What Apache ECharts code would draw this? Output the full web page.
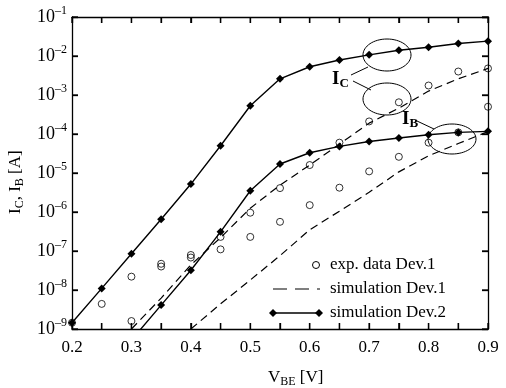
<!DOCTYPE html>
<html>
<head>
<meta charset="utf-8">
<script src="https://cdn.jsdelivr.net/npm/echarts@6/dist/echarts.min.js"></script>
<style>
  html, body { margin: 0; padding: 0; background: #fff; }
  #chart { width: 506px; height: 388px; }
</style>
</head>
<body>
<div id="chart"></div>
<script>
// Base-emitter voltage sweep [V]
const vbe = [0.2, 0.25, 0.3, 0.35, 0.4, 0.45, 0.5, 0.55, 0.6, 0.65, 0.7, 0.75, 0.8, 0.85, 0.9];

// Measured currents, device 1 [A]
const expIC = [1.45e-9, 4.4e-9, 2.2e-8, 4.7e-8, 7.9e-8, 2.3e-7, 9.6e-7, 4.1e-6, 1.6e-5, 6.0e-5, 2.1e-4, 6.5e-4, 1.75e-3, 4.0e-3, 4.8e-3];
const expIB = [null, null, 1.6e-9, 4.0e-8, 6.8e-8, 1.1e-7, 2.3e-7, 5.6e-7, 1.5e-6, 4.2e-6, 1.1e-5, 2.6e-5, 6.0e-5, 1.1e-4, 5.0e-4];

// Simulated currents, device 1 [A]
const sim1IC = [null, null, 1.0e-9, 6.2e-9, 4.4e-8, 2.2e-7, 1.25e-6, 4.9e-6, 1.6e-5, 5.5e-5, 1.9e-4, 4.6e-4, 1.26e-3, 2.6e-3, 4.8e-3];
const sim1IB = [null, null, null, null, 1.0e-9, 4.4e-9, 1.8e-8, 7.6e-8, 3.5e-7, 1.05e-6, 3.2e-6, 1.07e-5, 2.75e-5, 5.7e-5, 1.15e-4];

// Simulated currents, device 2 [A]
const sim2IC = [1.45e-9, 1.1e-8, 8.5e-8, 6.5e-7, 5.2e-6, 5.0e-5, 5.3e-4, 2.6e-3, 5.3e-3, 7.9e-3, 1.07e-2, 1.4e-2, 1.67e-2, 2.1e-2, 2.4e-2];
const sim2IB = [null, null, 5.2e-10, 4.1e-9, 3.2e-8, 3.1e-7, 3.5e-6, 1.7e-5, 3.3e-5, 4.8e-5, 6.4e-5, 7.9e-5, 9.6e-5, 1.1e-4, 1.17e-4];

// Axis ticks and labels
const xTickLabels = ['0.2', '0.3', '0.4', '0.5', '0.6', '0.7', '0.8', '0.9'];
const yDecades = [1e-9, 1e-8, 1e-7, 1e-6, 1e-5, 1e-4, 1e-3, 1e-2, 1e-1];
const legendNames = ['exp. data Dev.1', 'simulation Dev.1', 'simulation Dev.2'];

const FONT = '"Liberation Serif", "DejaVu Serif", serif';
const pair = ys => vbe.map((x, i) => [x, ys[i]]).filter(p => p[1] != null);

const mkLine = () => ({ show: true, onZero: false, lineStyle: { color: '#000', width: 1.3 } });
const mkTick = () => ({ show: true, inside: true, length: 6, lineStyle: { color: '#000', width: 1.3 } });

function xLabel(v) {
  const s = v.toFixed(1);
  return (Math.abs(v * 10 - Math.round(v * 10)) < 1e-6 && xTickLabels.indexOf(s) >= 0) ? s : '';
}
function yLabel(v) {
  const e = Math.round(Math.log10(v));
  return '{b|10}{s|' + (e < 0 ? '\u2013' : '') + Math.abs(e) + '}';
}

const solid = (name, ys) => ({
  name, type: 'line', data: pair(ys), clip: true,
  symbol: 'diamond', symbolSize: 8, showSymbol: true,
  lineStyle: { color: '#000', width: 1.4 },
  itemStyle: { color: '#000' }, z: 3
});
const dashed = (name, ys) => ({
  name, type: 'line', data: pair(ys), clip: true, symbol: 'none',
  lineStyle: { color: '#000', width: 1.2, type: [8, 5] }, z: 2
});
const circles = (name, ys) => ({
  name, type: 'scatter', data: pair(ys), clip: true,
  symbol: 'circle', symbolSize: 7,
  itemStyle: { color: 'rgba(255,255,255,0)', borderColor: '#000', borderWidth: 1 }, z: 4
});

const GRID = { left: 72, top: 17, right: 18, bottom: 59 };
const chart = echarts.init(document.getElementById('chart'), null, { renderer: 'canvas' });

chart.setOption({
  animation: false,
  backgroundColor: '#fff',
  textStyle: { fontFamily: FONT, color: '#000' },
  grid: Object.assign({ containLabel: false }, GRID),
  xAxis: [
    {
      type: 'value', min: 0.2, max: 0.9, interval: 0.05, position: 'bottom',
      axisLine: mkLine(), axisTick: mkTick(), splitLine: { show: false },
      axisLabel: { formatter: xLabel, color: '#000', fontFamily: FONT, fontSize: 17, margin: 10, showMinLabel: true, showMaxLabel: true }
    },
    {
      type: 'value', min: 0.2, max: 0.9, interval: 0.05, position: 'top',
      axisLine: mkLine(), axisTick: mkTick(), splitLine: { show: false }, axisLabel: { show: false }
    }
  ],
  yAxis: [
    {
      type: 'log', logBase: 10, min: 1e-9, max: 1e-1, position: 'left',
      axisLine: mkLine(), axisTick: mkTick(), splitLine: { show: false }, minorTick: { show: false },
      axisLabel: {
        formatter: yLabel, color: '#000', margin: 5,
        rich: {
          b: { fontFamily: FONT, fontSize: 18, color: '#000', lineHeight: 24 },
          s: { fontFamily: FONT, fontSize: 12, color: '#000', verticalAlign: 'top', lineHeight: 12 }
        }
      }
    },
    {
      type: 'log', logBase: 10, min: 1e-9, max: 1e-1, position: 'right',
      axisLine: mkLine(), axisTick: mkTick(), splitLine: { show: false }, axisLabel: { show: false }
    }
  ],
  series: [
    dashed(legendNames[1], sim1IC),
    dashed(legendNames[1], sim1IB),
    solid(legendNames[2], sim2IC),
    solid(legendNames[2], sim2IB),
    circles(legendNames[0], expIC),
    circles(legendNames[0], expIB)
  ]
});

// Pixel position of a data point through the grid's own scales,
// with a plain linear/log fallback over the grid box.
const W = chart.getWidth(), H = chart.getHeight();
const gL = GRID.left, gR = W - GRID.right, gT = GRID.top, gB = H - GRID.bottom;
function toPx(x, y) {
  let p = null;
  try { p = chart.convertToPixel({ gridIndex: 0 }, [x, y]); } catch (e) { p = null; }
  if (!p || !isFinite(p[0]) || !isFinite(p[1])) {
    p = [gL + (x - 0.2) / 0.7 * (gR - gL), gB - (Math.log10(y) + 9) / 8 * (gB - gT)];
  }
  return p;
}

// Inward frame ticks on all four sides
const TL = 6;
const tickStyle = { stroke: '#000', lineWidth: 1.3 };
const frameTicks = [];
vbe.forEach(v => {
  const x = toPx(v, 1e-5)[0];
  frameTicks.push({ type: 'line', silent: true, z: 10, shape: { x1: x, y1: gB, x2: x, y2: gB - TL }, style: tickStyle });
  frameTicks.push({ type: 'line', silent: true, z: 10, shape: { x1: x, y1: gT, x2: x, y2: gT + TL }, style: tickStyle });
});
yDecades.forEach(v => {
  const y = toPx(0.5, v)[1];
  frameTicks.push({ type: 'line', silent: true, z: 10, shape: { x1: gL, y1: y, x2: gL + TL, y2: y }, style: tickStyle });
  frameTicks.push({ type: 'line', silent: true, z: 10, shape: { x1: gR, y1: y, x2: gR - TL, y2: y }, style: tickStyle });
});

const subRich = { sub: { fontFamily: FONT, fontSize: 12, verticalAlign: 'bottom', padding: [8, 0, 0, 0] } };
const boldSubRich = { sub: { fontFamily: FONT, fontWeight: 'bold', fontSize: 13, verticalAlign: 'bottom', padding: [9, 0, 0, 0] } };
const thin = { fill: 'none', stroke: '#000', lineWidth: 1 };

chart.setOption({
  graphic: frameTicks.concat([
    // axis titles
    { type: 'text', left: 268, top: 369, style: { text: 'V{sub|BE} [V]', fill: '#000', font: '17px ' + FONT, rich: subRich } },
    { type: 'text', x: 6, y: 214, rotation: Math.PI / 2, style: { text: 'I{sub|C}, I{sub|B} [A]', fill: '#000', font: '17px ' + FONT, rich: subRich } },
    // legend
    { type: 'circle', shape: { cx: 316, cy: 265, r: 3.5 }, style: thin },
    { type: 'text', left: 330, top: 256, style: { text: legendNames[0], fill: '#000', font: '17px ' + FONT } },
    { type: 'line', shape: { x1: 273, y1: 289, x2: 320, y2: 289 }, style: { stroke: '#000', lineWidth: 1.2, lineDash: [14, 8] } },
    { type: 'text', left: 330, top: 280, style: { text: legendNames[1], fill: '#000', font: '17px ' + FONT } },
    { type: 'line', shape: { x1: 273, y1: 313, x2: 319, y2: 313 }, style: { stroke: '#000', lineWidth: 1.4 } },
    { type: 'polygon', shape: { points: [[273, 309], [277, 313], [273, 317], [269, 313]] }, style: { fill: '#000' } },
    { type: 'polygon', shape: { points: [[319, 309], [323, 313], [319, 317], [315, 313]] }, style: { fill: '#000' } },
    { type: 'text', left: 330, top: 304, style: { text: legendNames[2], fill: '#000', font: '17px ' + FONT } },
    // I_C / I_B callouts
    { type: 'ellipse', shape: { cx: 387, cy: 55, rx: 24, ry: 16 }, style: thin },
    { type: 'ellipse', shape: { cx: 387, cy: 99, rx: 24, ry: 16 }, style: thin },
    { type: 'ellipse', shape: { cx: 452, cy: 139, rx: 24, ry: 15 }, style: thin },
    { type: 'line', shape: { x1: 351, y1: 75, x2: 368, y2: 67 }, style: thin },
    { type: 'line', shape: { x1: 353, y1: 81, x2: 371, y2: 90 }, style: thin },
    { type: 'line', shape: { x1: 417, y1: 121, x2: 434, y2: 129 }, style: thin },
    { type: 'text', left: 332, top: 70, style: { text: 'I{sub|C}', fill: '#000', font: 'bold 19px ' + FONT, rich: boldSubRich } },
    { type: 'text', left: 402, top: 110, style: { text: 'I{sub|B}', fill: '#000', font: 'bold 19px ' + FONT, rich: boldSubRich } }
  ])
});
</script>
</body>
</html>
